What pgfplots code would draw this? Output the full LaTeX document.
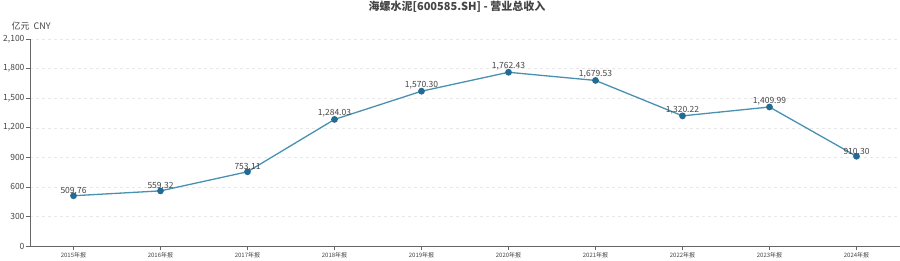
\documentclass[border=0pt]{standalone}
\usepackage{pgfplots}
\pgfplotsset{compat=1.18}
\usepackage{fontspec}
\setmainfont{Noto Sans CJK SC}
\definecolor{linec}{HTML}{4A90B0}
\definecolor{markc}{HTML}{236A94}
\definecolor{axc}{HTML}{666666}
\definecolor{txt}{HTML}{444444}
\begin{document}
\begin{tikzpicture}
\path[use as bounding box] (-30pt,-14pt) rectangle (870pt,246pt);
\begin{axis}[
  at={(0,0)}, anchor=south west,
  scale only axis, width=870pt, height=207pt,
  xmin=-0.5, xmax=9.5, ymin=0, ymax=2100,
  xtick={0,...,9},
  xticklabels={2015年报,2016年报,2017年报,2018年报,2019年报,2020年报,2021年报,2022年报,2023年报,2024年报},
  x tick label style={font=\fontsize{6}{6}\selectfont, text=txt, yshift=1pt},
  ytick={0,300,...,2100},
  y tick label style={font=\fontsize{8.5}{9}\selectfont, text=txt, xshift=2pt},
  /pgf/number format/assume math mode=true,
  /pgf/number format/1000 sep={,},
  scaled y ticks=false,
  axis x line*=bottom, axis y line*=left,
  axis line style={axc, line width=0.6pt, -},
  tick style={axc, line width=0.6pt},
  tick align=outside, major tick length=4pt,
  ymajorgrids, grid style={dashed, gray!18, line width=0.4pt},
  clip=false,
  nodes near coords,
  nodes near coords style={font=\fontsize{8.5}{9}\selectfont, text=txt, anchor=south, inner sep=1.5pt, /pgf/number format/fixed, /pgf/number format/fixed zerofill, /pgf/number format/precision=2, /pgf/number format/1000 sep={,}},
]
\addplot[color=linec, line width=1.3pt, mark=*, mark size=2.7pt, mark options={fill=markc, draw=markc}] coordinates {
(0,509.76) (1,559.32) (2,753.11) (3,1284.03) (4,1570.30) (5,1762.43) (6,1679.53) (7,1320.22) (8,1409.99) (9,910.30)
};
\end{axis}
\node[font=\fontsize{9}{10}\selectfont, text=txt, anchor=west] at (-22pt,220pt) {亿元\ \ CNY};
\node[font=\bfseries\fontsize{11}{12}\selectfont, text=txt, inner sep=0pt] at (427pt,239.5pt) {海螺水泥[600585.SH] - 营业总收入};
\end{tikzpicture}
\end{document}
